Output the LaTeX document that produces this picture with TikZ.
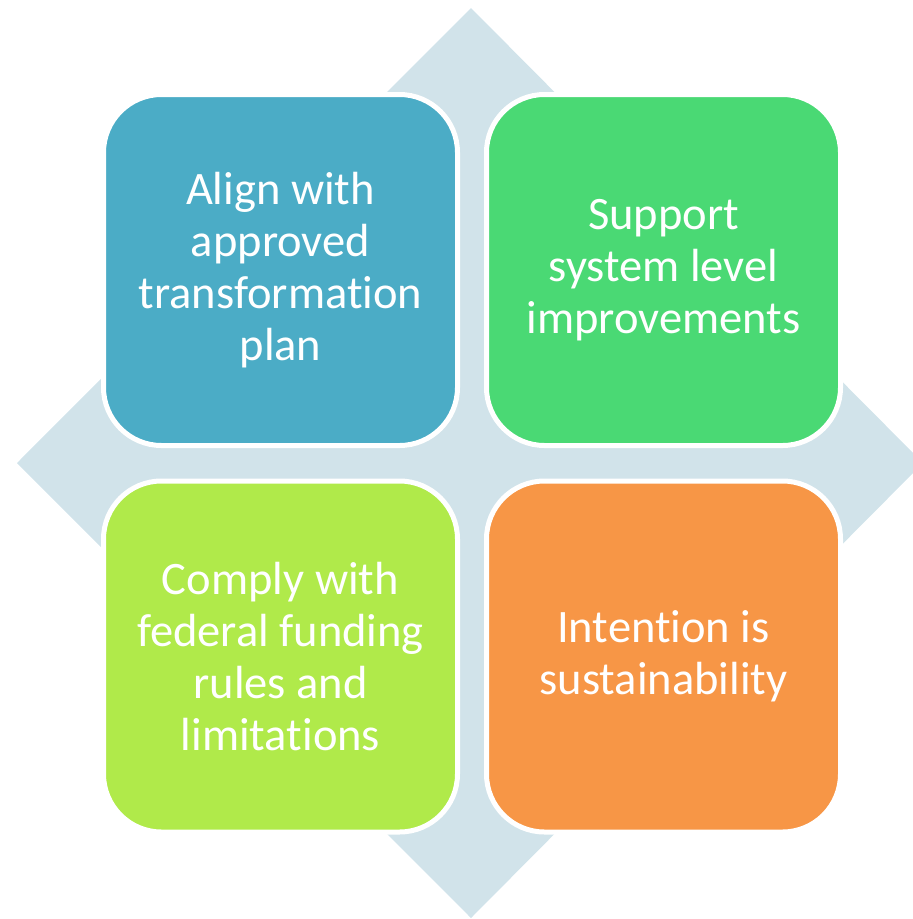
\documentclass[tikz,border=0pt]{standalone}
\usepackage{fontspec}
\setmainfont[Ligatures=NoCommon]{Carlito}
\definecolor{diamondbg}{RGB}{209,227,234}
\definecolor{boxblue}{RGB}{75,172,198}
\definecolor{boxgreen}{RGB}{74,217,116}
\definecolor{boxlime}{RGB}{176,234,74}
\definecolor{boxorange}{RGB}{247,150,70}
\tikzset{
  quadbox/.style={draw=white, line width=5pt, rounded corners=58pt,
    minimum width=354pt, minimum height=351pt, inner sep=0pt,
    align=center, text=white, font=\fontsize{46.5}{52}\selectfont},
}
\begin{document}
\begin{tikzpicture}[x=1pt,y=-1pt]
\useasboundingbox (0,0) rectangle (913,919);
\clip (0,0) rectangle (913,919);
\fill[diamondbg] (471,8) -- (923,463) -- (471,918) -- (17,463) -- cycle;
\node[quadbox, fill=boxblue] (tl) at (280.5,270) {Align with\\approved\\transformation\\plan};
\node[quadbox, fill=boxgreen] (tr) at (663.5,270) {Support\\system level\\improvements};
\node[quadbox, fill=boxlime] (bl) at (280.5,656.5) {Comply with\\federal funding\\rules and\\limitations};
\node[quadbox, fill=boxorange] (br) at (663.5,656.5) {Intention is\\sustainability};
\end{tikzpicture}
\end{document}
